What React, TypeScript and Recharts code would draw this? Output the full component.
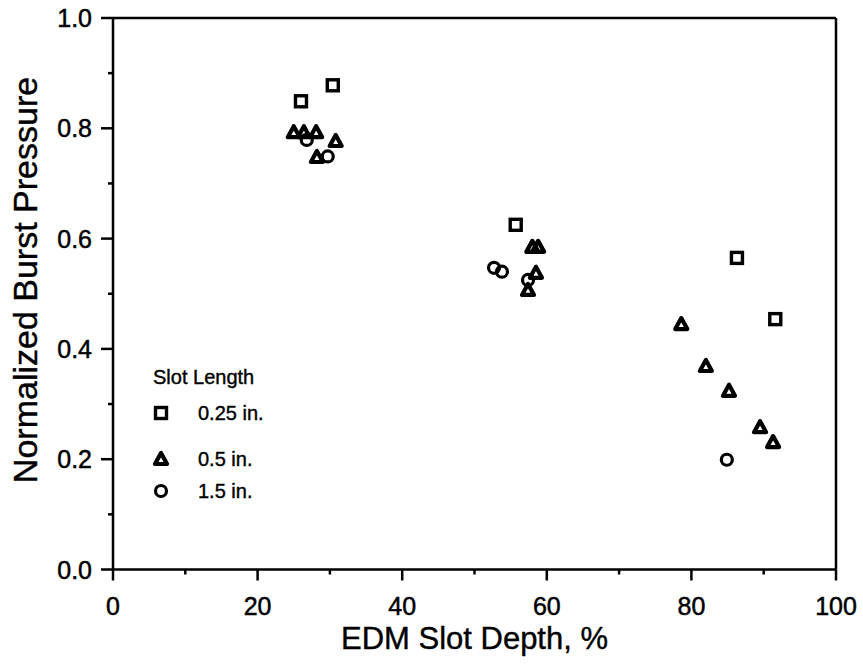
import React from "react";
import {
  ScatterChart,
  Scatter,
  XAxis,
  YAxis,
  ReferenceLine,
  Legend,
} from "recharts";

// slot depth (%) and normalized burst pressure, one list per slot length
const squareDepth = [26.0, 30.4, 55.7, 86.3, 91.6];
const squarePressure = [0.849, 0.878, 0.625, 0.565, 0.454];

const triangleDepth = [25.0, 26.4, 28.1, 30.8, 28.2, 58.0, 58.8, 58.5, 57.4, 78.6, 82.0, 85.2, 89.5, 91.3];
const trianglePressure = [0.793, 0.793, 0.793, 0.777, 0.748, 0.585, 0.585, 0.538, 0.507, 0.445, 0.369, 0.324, 0.258, 0.231];

const circleDepth = [26.8, 29.7, 52.7, 53.8, 57.4, 84.9];
const circlePressure = [0.779, 0.749, 0.547, 0.54, 0.525, 0.199];

const xTicks = [0, 10, 20, 30, 40, 50, 60, 70, 80, 90, 100];
const yTicks = [0, 0.1, 0.2, 0.3, 0.4, 0.5, 0.6, 0.7, 0.8, 0.9, 1.0];

const legendTitle = "Slot Length";
const legendLabels = ["0.25 in.", "0.5 in.", "1.5 in."];

const FONT = "'Liberation Sans', Arial, Helvetica, sans-serif";

const toPoints = (xs: number[], ys: number[]) =>
  xs.map((x, i) => ({ x, y: ys[i] }));

const Square = ({ cx, cy }: any) => (
  <rect x={cx - 5.5} y={cy - 5.5} width={11} height={11} fill="none" stroke="#000" strokeWidth={3.4} />
);

const Triangle = ({ cx, cy }: any) => (
  <polygon
    points={`${cx},${cy - 6} ${cx - 6},${cy + 5} ${cx + 6},${cy + 5}`}
    fill="none"
    stroke="#000"
    strokeWidth={4.2}
    strokeLinejoin="round"
  />
);

const Circle = ({ cx, cy }: any) => (
  <circle cx={cx} cy={cy} r={5.5} fill="none" stroke="#000" strokeWidth={3.2} />
);

const XTick = ({ x, y, payload }: any) => {
  const major = payload.value % 20 === 0;
  return (
    <g>
      <line x1={x} x2={x} y1={y} y2={y + (major ? 11 : 5)} stroke="#000" strokeWidth={2.5} />
      {major && (
        <text x={x} y={y + 45} textAnchor="middle" fontSize={25} fontFamily={FONT} fill="#000" stroke="#000" strokeWidth={0.5}>
          {payload.value}
        </text>
      )}
    </g>
  );
};

const YTick = ({ x, y, payload }: any) => {
  const major = Math.round(payload.value * 10) % 2 === 0;
  return (
    <g>
      <line x1={x - (major ? 12 : 5)} x2={x} y1={y} y2={y} stroke="#000" strokeWidth={2.5} />
      {major && (
        <text x={x - 21} y={y + 9} textAnchor="end" fontSize={25} fontFamily={FONT} fill="#000" stroke="#000" strokeWidth={0.5}>
          {payload.value.toFixed(1)}
        </text>
      )}
    </g>
  );
};

const LegendBox = () => {
  const rows = [413, 459, 491];
  const marks = [Square, Triangle, Circle];
  return (
    <svg width={160} height={150} style={{ overflow: "visible" }}>
      <text x={13} y={31} fontSize={20} fontFamily={FONT} fill="#000" stroke="#000" strokeWidth={0.4}>
        {legendTitle}
      </text>
      {legendLabels.map((label, i) => {
        const Mark = marks[i];
        const cy = rows[i] - 353;
        return (
          <g key={label}>
            <Mark cx={21} cy={cy} />
            <text x={58} y={cy + 7} fontSize={20} fontFamily={FONT} fill="#000" stroke="#000" strokeWidth={0.4}>
              {label}
            </text>
          </g>
        );
      })}
    </svg>
  );
};

export default function App() {
  return (
    <div style={{ position: "absolute", left: 0, top: 0, background: "#fff" }}>
      <ScatterChart
        width={863}
        height={667}
        margin={{ top: 18, right: 27, left: 0, bottom: 0 }}
      >
        <XAxis
          type="number"
          dataKey="x"
          domain={[0, 100]}
          ticks={xTicks}
          interval={0}
          height={97.5}
          axisLine={{ stroke: "#000", strokeWidth: 2.5 }}
          tickLine={false}
          tickSize={0}
          tickMargin={0}
          tick={<XTick />}
          label={{
            value: "EDM Slot Depth, %",
            content: ({ viewBox }: any) => (
              <text
                x={viewBox.x + viewBox.width / 2}
                y={649}
                textAnchor="middle"
                fontSize={31}
                fontFamily={FONT}
                fill="#000"
                stroke="#000"
                strokeWidth={0.4}
              >
                EDM Slot Depth, %
              </text>
            ),
          }}
        />
        <YAxis
          type="number"
          dataKey="y"
          domain={[0, 1]}
          ticks={yTicks}
          interval={0}
          width={113}
          axisLine={{ stroke: "#000", strokeWidth: 2.5 }}
          tickLine={false}
          tickSize={0}
          tickMargin={0}
          tick={<YTick />}
          label={{
            value: "Normalized Burst Pressure",
            content: () => (
              <text
                x={37}
                y={280}
                transform="rotate(-90, 37, 280)"
                textAnchor="middle"
                fontSize={34}
                fontFamily={FONT}
                fill="#000"
                stroke="#000"
                strokeWidth={0.4}
              >
                Normalized Burst Pressure
              </text>
            ),
          }}
        />
        <ReferenceLine y={1} stroke="#000" strokeWidth={2.5} />
        <ReferenceLine x={100} stroke="#000" strokeWidth={2.5} />
        <Legend
          layout="horizontal"
          verticalAlign="middle"
          align="center"
          content={<LegendBox />}
          wrapperStyle={{ left: 140, top: 353, width: 160, height: 150 }}
        />
        <Scatter
          name="0.25 in."
          data={toPoints(squareDepth, squarePressure)}
          shape={Square}
          isAnimationActive={false}
        />
        <Scatter
          name="0.5 in."
          data={toPoints(triangleDepth, trianglePressure)}
          shape={Triangle}
          isAnimationActive={false}
        />
        <Scatter
          name="1.5 in."
          data={toPoints(circleDepth, circlePressure)}
          shape={Circle}
          isAnimationActive={false}
        />
      </ScatterChart>
    </div>
  );
}
